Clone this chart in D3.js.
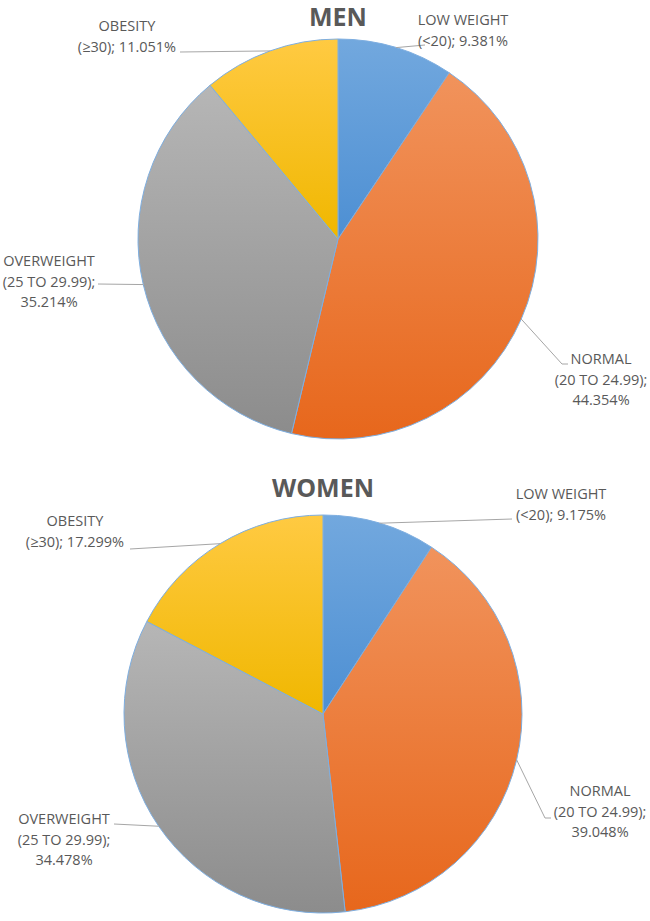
<!DOCTYPE html>
<html>
<head>
<meta charset="utf-8">
<style>
  body { margin: 0; background: #fff; }
  text { font-family: "Open Sans", Lato, sans-serif; fill: #595959; }
</style>
</head>
<body>
<svg width="650" height="921"></svg>
<script src="https://cdnjs.cloudflare.com/ajax/libs/d3/7.8.5/d3.min.js"></script>
<script>

var categories = ["LOW WEIGHT", "NORMAL", "OVERWEIGHT", "OBESITY"];
var ranges = ["(<20)", "(20 TO 24.99)", "(25 TO 29.99)", "(≥30)"];
var menValues = [9.381, 44.354, 35.214, 11.051];
var womenValues = [9.175, 39.048, 34.478, 17.299];
var titles = ["MEN", "WOMEN"];

var colors = [
  ["#72a8de", "#4d8fd3"],
  ["#f1935c", "#e7671c"],
  ["#b6b6b6", "#8c8c8c"],
  ["#ffca42", "#f0b700"]
];

// label placement per chart: text centre x, first line y, and where the leader ends
var layout = [
  {cx: 338, cy: 239, r: 200, titleY: 26, labels: [
    {x: 463, y: 25, lines: 2, leader: [[425, 45]]},
    {x: 601, y: 364, lines: 3, leader: [[562, 364], [568, 364]]},
    {x: 49, y: 266, lines: 3, leader: [[98, 284]]},
    {x: 127, y: 31, lines: 2, leader: [[180, 52]]}
  ]},
  {cx: 323, cy: 714, r: 199, titleY: 497, labels: [
    {x: 561, y: 499, lines: 2, leader: [[512, 519]]},
    {x: 600, y: 796, lines: 3, leader: [[545, 818], [551, 818]]},
    {x: 64, y: 824, lines: 3, leader: [[114, 824]]},
    {x: 75, y: 526, lines: 2, leader: [[130, 549]]}
  ]}
];

var svg = d3.select("svg");
var defs = svg.append("defs");

colors.forEach(function(c, i) {
  var grad = defs.append("linearGradient")
      .attr("id", "grad" + i)
      .attr("x1", 0).attr("y1", 0)
      .attr("x2", 0).attr("y2", 1);
  grad.append("stop").attr("offset", "0%").attr("stop-color", c[0]);
  grad.append("stop").attr("offset", "100%").attr("stop-color", c[1]);
});

var pie = d3.pie().sort(null);

function drawPie(values, title, lay) {
  var g = svg.append("g").attr("transform", "translate(" + lay.cx + "," + lay.cy + ")");
  var arc = d3.arc().innerRadius(0).outerRadius(lay.r);
  var arcs = pie(values);

  g.selectAll("path")
    .data(arcs)
    .enter().append("path")
      .attr("d", arc)
      .attr("fill", function(d, i) { return "url(#grad" + i + ")"; })
      .attr("stroke", "#7eaee0")
      .attr("stroke-width", 1);

  svg.append("text")
      .attr("x", lay.cx)
      .attr("y", lay.titleY)
      .attr("text-anchor", "middle")
      .style("font-size", "25px")
      .style("font-weight", "bold")
      .text(title);

  arcs.forEach(function(d, i) {
    var lab = lay.labels[i];
    var mid = (d.startAngle + d.endAngle) / 2;
    var start = [lay.cx + lay.r * Math.sin(mid), lay.cy - lay.r * Math.cos(mid)];
    svg.append("path")
        .attr("d", d3.line()([start].concat(lab.leader)))
        .attr("fill", "none")
        .attr("stroke", "#a6a6a6")
        .attr("stroke-width", 1);

    var pct = d3.format(".3f")(d.data) + "%";
    var lines = lab.lines == 2
      ? [categories[i], ranges[i] + "; " + pct]
      : [categories[i], ranges[i] + ";", pct];

    var t = svg.append("text")
        .attr("text-anchor", "middle")
        .style("font-size", "14.5px");
    lines.forEach(function(s, k) {
      t.append("tspan")
          .attr("x", lab.x)
          .attr("y", lab.y + k * 20.5)
          .text(s);
    });
  });
}

drawPie(menValues, titles[0], layout[0]);
drawPie(womenValues, titles[1], layout[1]);

</script>
</body>
</html>
